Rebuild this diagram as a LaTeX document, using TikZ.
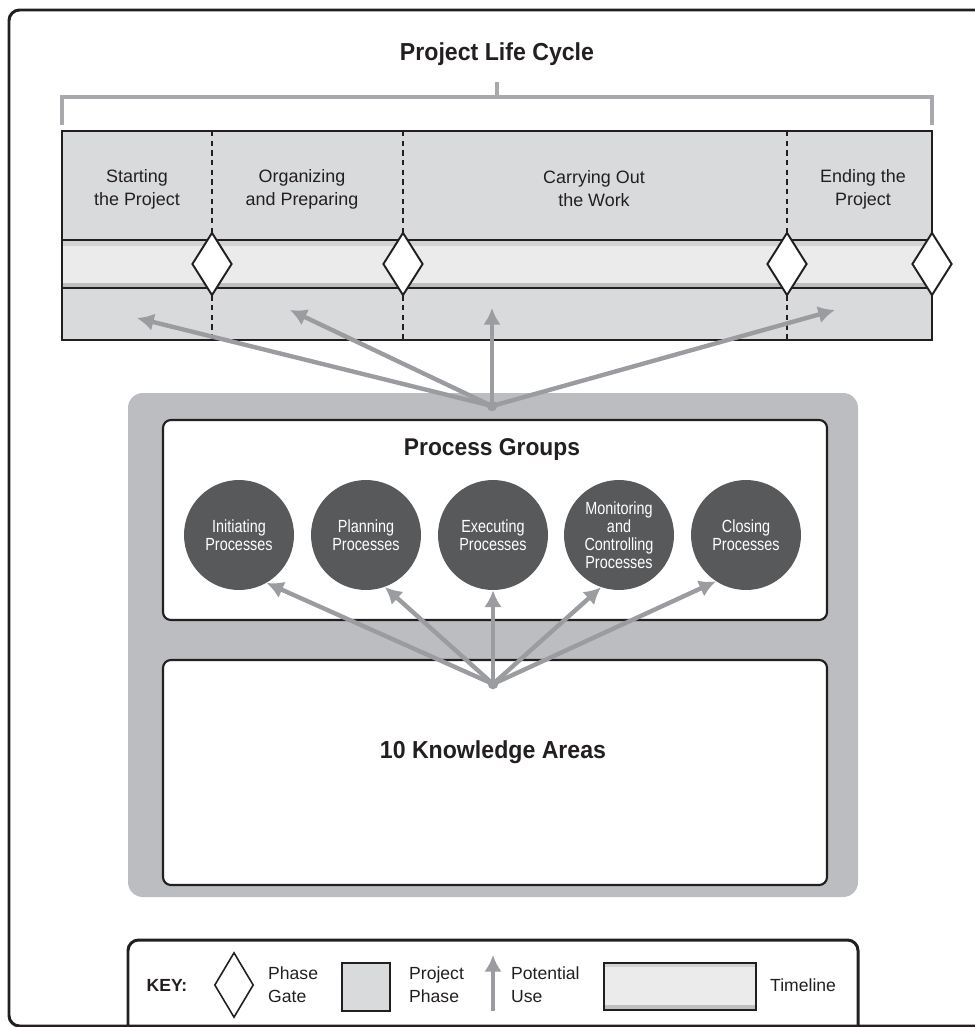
\documentclass[tikz,border=0pt]{standalone}
\usepackage{fontspec}
\setmainfont{Liberation Sans}
\newfontfamily\headfont{Liberation Sans}[FakeStretch=0.94]
\newfontfamily\narrowfont{Liberation Sans}[FakeStretch=0.82]
\usetikzlibrary{shapes.geometric,arrows.meta}
\definecolor{phasegray}{HTML}{D9DADB}
\definecolor{bandgray}{HTML}{EBEBEC}
\definecolor{edgegray}{HTML}{D2D3D5}
\definecolor{stripgray}{HTML}{BCBEC0}
\definecolor{boxgray}{HTML}{BBBDC0}
\definecolor{bracegray}{HTML}{A7A9AC}
\definecolor{arrowgray}{HTML}{9A9C9F}
\definecolor{procgray}{HTML}{58595B}
\definecolor{inkblack}{HTML}{231F20}

\begin{document}
\begin{tikzpicture}[x=0.02cm, y=-0.02cm,
    gate/.style={diamond, draw=inkblack, line width=1.1pt, fill=white, inner sep=0pt, minimum width=0.8cm, minimum height=1.26cm},
    phaselabel/.style={align=center, font=\fontsize{10.2}{13}\selectfont, text=inkblack},
    process/.style={circle, fill=procgray, text=white, inner sep=0pt, minimum size=2.2cm, align=center, font=\narrowfont\fontsize{10}{10.2}\selectfont},
    use/.style={arrowgray, line width=2.5pt, -{Latex[length=9.5pt,width=10pt]}},
    panel/.style={draw=inkblack, line width=1.2pt, fill=white, rounded corners=4.5pt},
    heading/.style={font=\headfont\bfseries\fontsize{14}{16}\selectfont, text=inkblack},
    keytext/.style={align=left, font=\fontsize{10}{13}\selectfont, text=inkblack}]
    \useasboundingbox (0,0) rectangle (974,1027);
    \draw[inkblack, line width=1.7pt, rounded corners=6pt] (9,1026) rectangle (1000,10);

    \node[heading] at (497,54) (title) {Project Life Cycle};
    \draw[bracegray, line width=2.3pt] (62,125) -- (62,97) -- (932,97) -- (932,125);
    \draw[bracegray, line width=2.3pt] (497,97) -- (497,82);

    \fill[phasegray] (62,131) rectangle (932,340);
    \fill[bandgray] (62,240) rectangle (932,288);
    \fill[edgegray] (62,240) rectangle (932,246);
    \fill[stripgray] (62,283) rectangle (932,288);
    \draw[inkblack, line width=1.2pt] (62,240) -- (932,240) (62,288) -- (932,288);
    \draw[inkblack, line width=1.2pt] (62,131) rectangle (932,340);
    \foreach \x in {212,403,787}
        \draw[inkblack, line width=0.9pt, dash pattern=on 3pt off 2.5pt] (\x,131) -- (\x,340);
    \node[gate] at (212,264) (g1) {};
    \node[gate] at (403,264) (g2) {};
    \node[gate] at (787,264) (g3) {};
    \node[gate] at (932,264) (g4) {};

    \node[phaselabel] at (137,189) (start) {Starting\\the Project};
    \node[phaselabel] at (302,189) (organize) {Organizing\\and Preparing};
    \node[phaselabel] at (594,189) (work) {Carrying Out\\the Work};
    \node[phaselabel] at (863,189) (ending) {Ending the\\Project};

    \fill[boxgray, rounded corners=8.5pt] (128,393) rectangle (858,897);
    \draw[panel] (163,420) rectangle (827,620);
    \draw[panel] (163,660) rectangle (827,885);

    \coordinate (hub) at (492,406);
    \coordinate (u1) at (137,318);
    \coordinate (u2) at (290,310);
    \coordinate (u3) at (492,308);
    \coordinate (u4) at (835,310);
    \foreach \t in {u1,u2,u3,u4}
        \draw[use] (hub) -- (\t);
    \fill[arrowgray] (hub) circle (3pt);

    \node[heading, font=\headfont\bfseries\fontsize{13.8}{16}\selectfont] at (492,450) (groups) {Process Groups};
    \node[process] at (239,535) (ini) {Initiating\\Processes};
    \node[process] at (366,535) (plan) {Planning\\Processes};
    \node[process] at (493,535) (exec) {Executing\\Processes};
    \node[process] at (619,535) (mon) {Monitoring\\and\\Controlling\\Processes};
    \node[process] at (746,535) (clos) {Closing\\Processes};

    \node[heading] at (493,752) (areas) {10 Knowledge Areas};
    \coordinate (hubk) at (493,684);
    \draw[use] (hubk) -- (ini.300);
    \draw[use] (hubk) -- (plan.290);
    \draw[use] (hubk) -- (exec.south);
    \draw[use] (hubk) -- (mon.251);
    \draw[use] (hubk) -- (clos.237);
    \fill[arrowgray] (hubk) circle (3pt);

    \draw[inkblack, line width=1.7pt, rounded corners=6pt] (128,1040) -- (128,940) -- (858,940) -- (858,1040);
    \node[font=\bfseries\fontsize{10}{12}\selectfont, text=inkblack] at (167,985) (key) {KEY:};
    \node[gate, line width=0.9pt, minimum width=0.78cm, minimum height=1.3cm] at (234,985) (kgate) {};
    \node[keytext, anchor=west] at (262,985) (kgatetext) {Phase\\Gate};
    \node[draw=inkblack, line width=1.1pt, fill=phasegray, inner sep=0pt, minimum width=0.96cm, minimum height=0.96cm] at (366,987) (kphase) {};
    \node[keytext, anchor=west] at (403,985) (kphasetext) {Project\\Phase};
    \coordinate (kbot) at (493,1011);
    \coordinate (ktop) at (493,955);
    \draw[use, line width=2.2pt] (kbot) -- (ktop);
    \node[keytext, anchor=west] at (505,985) (kusetext) {Potential\\Use};
    \fill[bandgray] (604,963) rectangle (756,1010);
    \fill[edgegray] (604,963) rectangle (756,967);
    \fill[stripgray] (604,1005) rectangle (756,1010);
    \draw[inkblack, line width=1.1pt] (604,963) rectangle (756,1010);
    \node[keytext, anchor=west] at (764,985) (ktimetext) {Timeline};
\end{tikzpicture}
\end{document}
